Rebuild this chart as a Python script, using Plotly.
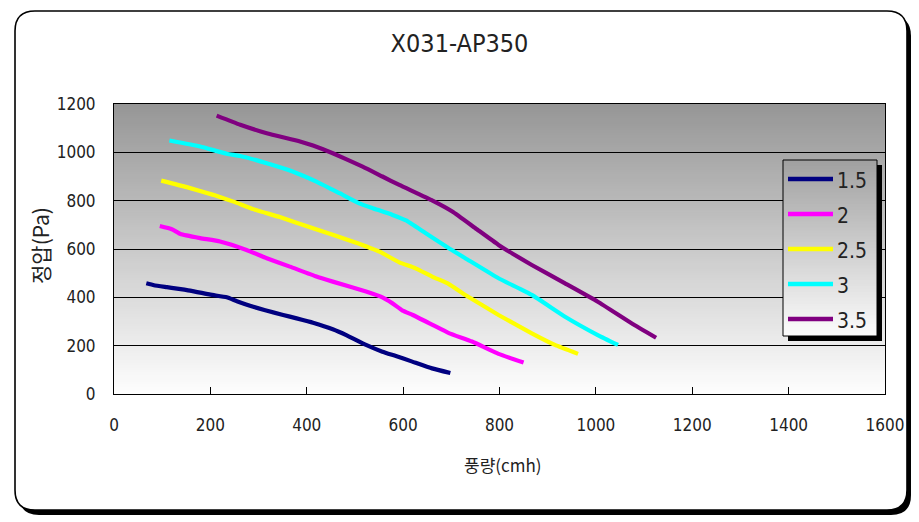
import plotly.graph_objects as go

# ---------------- data ----------------
title_text = "X031-AP350"
x_title = "풍량(cmh)"
y_title = "정압(Pa)"
series_names = ["1.5", "2", "2.5", "3", "3.5"]
series_colors = ["#000080", "#FF00FF", "#FFFF00", "#00FFFF", "#800080"]

s15_x = [67, 83, 110, 158, 200, 234, 255, 289, 351, 379, 413, 454, 482, 523, 557, 585, 619, 660, 698]
s15_y = [458, 450, 442, 428, 411, 400, 384, 361, 327, 313, 295, 268, 244, 203, 175, 157, 134, 106, 87]

s2_x = [95, 120, 138, 179, 220, 275, 317, 365, 420, 454, 523, 557, 578, 599, 620, 661, 695, 743, 798, 850]
s2_y = [695, 682, 662, 645, 631, 596, 562, 527, 486, 465, 424, 400, 375, 345, 327, 286, 252, 217, 166, 130]

s25_x = [98, 151, 206, 248, 289, 344, 413, 495, 551, 592, 626, 661, 695, 729, 798, 867, 915, 963]
s25_y = [883, 856, 824, 796, 765, 732, 686, 631, 589, 545, 520, 485, 455, 410, 327, 251, 203, 166]

s3_x = [115, 179, 234, 262, 317, 372, 420, 468, 509, 537, 578, 606, 647, 695, 729, 798, 867, 936, 1004, 1046]
s3_y = [1049, 1024, 994, 985, 955, 920, 879, 831, 789, 769, 741, 718, 665, 603, 562, 479, 410, 320, 244, 203]

s35_x = [213, 262, 317, 386, 413, 454, 516, 557, 592, 661, 702, 750, 798, 867, 936, 1004, 1074, 1125]
s35_y = [1152, 1114, 1079, 1045, 1028, 996, 941, 900, 865, 800, 755, 686, 617, 534, 458, 382, 293, 233]

xs = [s15_x, s2_x, s25_x, s3_x, s35_x]
ys = [s15_y, s2_y, s25_y, s3_y, s35_y]

x_range = [0, 1600]
y_range = [0, 1200]
tick_step = 200

# ---------------- layout geometry ----------------
W, H = 919, 522
ML, MR, MT, MB = 114, 34, 104, 128
PW, PH = W - ML - MR, H - MT - MB

NUM_FONT = "DejaVu Sans Condensed, Liberation Sans Narrow, sans-serif"
KR_FONT = "Noto Sans CJK KR, sans-serif"


def pp(x, y):
    return (x - ML) / PW, (MT + PH - y) / PH


def rrect_path(x0, y0, x1, y1, r):
    def P(x, y):
        a, b = pp(x, y)
        return f"{a:.5f},{b:.5f}"
    return (f"M{P(x0 + r, y0)} L{P(x1 - r, y0)} Q{P(x1, y0)} {P(x1, y0 + r)} "
            f"L{P(x1, y1 - r)} Q{P(x1, y1)} {P(x1 - r, y1)} L{P(x0 + r, y1)} "
            f"Q{P(x0, y1)} {P(x0, y1 - r)} L{P(x0, y0 + r)} Q{P(x0, y0)} {P(x0 + r, y0)} Z")


def gray(v):
    v = int(round(max(0, min(255, v))))
    return f"rgb({v},{v},{v})"


shapes = []
# outer frame shadow + frame
shapes.append(dict(type="path", xref="paper", yref="paper", layer="below",
                   path=rrect_path(19, 16, 911, 515, 20), fillcolor="black", line=dict(width=0)))
shapes.append(dict(type="path", xref="paper", yref="paper", layer="below",
                   path=rrect_path(15, 11, 907, 510, 20), fillcolor="white",
                   line=dict(color="black", width=1.6)))

# plot-area gradient (below gridlines); bands overlap to avoid seams
NB = 120
for i in range(NB):
    y0 = y_range[0] + (y_range[1] - y_range[0]) * i / NB
    t = (i + 0.5) / NB
    g = 254 - (254 - 150) * t
    shapes.append(dict(type="rect", xref="x", yref="y", layer="below",
                       x0=x_range[0], x1=x_range[1], y0=y0, y1=y_range[1],
                       fillcolor=gray(g), line=dict(width=0)))

# legend box (manual)
LX0, LY0, LX1, LY1 = 783, 160, 877, 336
a0, b0 = pp(LX0 + 5, LY0 + 5)
a1, b1 = pp(LX1 + 5, LY1 + 5)
shapes.append(dict(type="rect", xref="paper", yref="paper", layer="above",
                   x0=a0, x1=a1, y0=b1, y1=b0, fillcolor="black", line=dict(width=0)))
NL = 60
for i in range(NL):
    yb = LY1 - (LY1 - LY0) * i / NL  # bottom edge of band (pixels), drawn bottom -> top
    t = 1 - (i + 0.5) / NL
    g = 160 + (252 - 160) * t
    a0, b0 = pp(LX0, LY0)
    a1, b1 = pp(LX1, yb)
    shapes.append(dict(type="rect", xref="paper", yref="paper", layer="above",
                       x0=a0, x1=a1, y0=b1, y1=b0, fillcolor=gray(g), line=dict(width=0)))
a0, b0 = pp(LX0, LY0)
a1, b1 = pp(LX1, LY1)
shapes.append(dict(type="rect", xref="paper", yref="paper", layer="above",
                   x0=a0, x1=a1, y0=b1, y1=b0, fillcolor="rgba(0,0,0,0)",
                   line=dict(color="black", width=1)))

annotations = []
for k, (name, col) in enumerate(zip(series_names, series_colors)):
    yy = 179 + 35 * k
    a0, b = pp(788, yy)
    a1, _ = pp(833, yy)
    shapes.append(dict(type="line", xref="paper", yref="paper", layer="above",
                       x0=a0, x1=a1, y0=b, y1=b, line=dict(color=col, width=4.5)))
    ta, tb = pp(835, yy + 2)
    annotations.append(dict(xref="paper", yref="paper", x=ta, y=tb, xanchor="left", yanchor="middle",
                            text=name, showarrow=False,
                            font=dict(family=NUM_FONT, size=21, color="#222222")))

# axis titles
ax, ay = pp(503, 464)
annotations.append(dict(xref="paper", yref="paper", x=ax, y=ay, xanchor="center", yanchor="middle",
                        text=x_title, showarrow=False, font=dict(family=KR_FONT, size=17, color="#222222")))
ax, ay = pp(40, 246)
annotations.append(dict(xref="paper", yref="paper", x=ax, y=ay, xanchor="center", yanchor="middle",
                        text=y_title, showarrow=False, textangle=-90,
                        font=dict(family=KR_FONT, size=21, color="#222222")))

fig = go.Figure()
for name, col, x, y in zip(series_names, series_colors, xs, ys):
    fig.add_trace(go.Scatter(x=x, y=y, mode="lines", name=name,
                             line=dict(color=col, width=4.2, shape="spline", smoothing=0.4),
                             showlegend=False))

fig.update_layout(
    width=W, height=H,
    margin=dict(l=ML, r=MR, t=MT, b=MB, pad=0),
    paper_bgcolor="white", plot_bgcolor="rgba(0,0,0,0)",
    title=dict(text=title_text, x=0.5, xref="container", xanchor="center",
               y=1 - 43 / H, yref="container", yanchor="middle",
               font=dict(family=NUM_FONT, size=25, color="#222222")),
    shapes=shapes, annotations=annotations, showlegend=False,
    xaxis=dict(range=x_range, dtick=tick_step, tick0=0, showgrid=False, zeroline=False,
               showline=True, linecolor="black", linewidth=1, mirror=True,
               ticks="inside", ticklen=7, tickcolor="black", tickwidth=1,
               ticklabelstandoff=16,
               tickfont=dict(family=NUM_FONT, size=17, color="#222222")),
    yaxis=dict(range=y_range, dtick=tick_step, tick0=0, showgrid=True, gridcolor="black", gridwidth=1,
               zeroline=False, showline=True, linecolor="black", linewidth=1, mirror=True,
               ticks="", ticklabelstandoff=14,
               tickfont=dict(family=NUM_FONT, size=17, color="#222222")),
)

fig.write_html("out.html")
